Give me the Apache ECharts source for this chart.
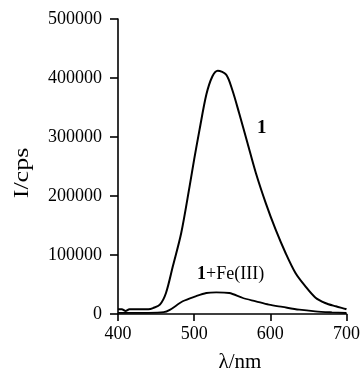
<!DOCTYPE html>
<html><head><meta charset="utf-8">
<script src="https://cdn.jsdelivr.net/npm/echarts@6/dist/echarts.min.js"></script>
<style>html,body{margin:0;padding:0;background:#fff}#c{width:363px;height:371px}</style>
</head><body><div id="c"></div>
<script>
const wl1 = [400,405,410,415,420,430,440,446,455,463,472,483,494,500,507,516,524,531,542,550,559,570,581,594,607,620,633,646,659,672,686,699,700];
const I1 = [8000,8000,5000,8000,8000,8000,8000,10000,15800,35600,80800,137300,216400,262000,312000,372000,403000,412500,405700,380000,340700,289800,239000,188000,142900,103400,69500,46900,28000,18600,13000,8500,8000];
const wl2 = [400,420,440,460,468,485,502,516,529,546,564,581,598,616,638,659,681,700];
const I2 = [2000,2000,2000,3000,7000,21500,30000,35600,36700,35600,27100,21500,15800,11900,7300,4500,2800,1700];
const xTicks = [400,500,600,700];
const yTicks = [0,100000,200000,300000,400000,500000];
const xTitle = 'λ/nm';
const yTitle = 'I/cps';
const labelMain = '1';
const labelFe = '+Fe(III)';

const chart = echarts.init(document.getElementById('c'));
const font = 'Liberation Serif';
chart.setOption({
  animation:false,
  grid:{left:118,right:15,top:19,bottom:57},
  xAxis:{type:'value',min:xTicks[0],max:xTicks[xTicks.length-1],interval:100,
    axisLine:{lineStyle:{color:'#000',width:1.6}},
    axisTick:{show:true,length:7,lineStyle:{color:'#000',width:1.6}},
    axisLabel:{fontFamily:font,fontSize:18,color:'#000',margin:11,formatter:v=>String(v)},
    splitLine:{show:false}},
  yAxis:{type:'value',min:yTicks[0],max:yTicks[yTicks.length-1],interval:100000,
    axisLine:{show:true,lineStyle:{color:'#000',width:1.6}},
    axisTick:{show:true,length:8,lineStyle:{color:'#000',width:1.6}},
    axisLabel:{fontFamily:font,fontSize:18,color:'#000',margin:16,formatter:v=>String(v)},
    splitLine:{show:false}},
  series:[
    {type:'line',data:wl1.map((x,i)=>[x,I1[i]]),symbol:'none',smooth:0.3,lineStyle:{color:'#000',width:2},z:3},
    {type:'line',data:wl2.map((x,i)=>[x,I2[i]]),symbol:'none',smooth:0.3,lineStyle:{color:'#000',width:1.8},z:3}
  ],
  graphic:[
    {type:'text',x:240,y:362,style:{text:xTitle,fontFamily:font,fontSize:21,fill:'#000',align:'center',verticalAlign:'middle'}},
    {type:'text',x:23,y:173,rotation:Math.PI/2,scaleX:1.3,style:{text:yTitle,fontFamily:font,fontSize:20,fill:'#000',align:'center',verticalAlign:'middle'}},
    {type:'text',left:257,top:119,style:{text:labelMain,fontFamily:font,fontSize:19,fontWeight:'bold',fill:'#000'}},
    {type:'text',left:197,top:265,style:{text:'{b|1}{n|'+labelFe+'}',rich:{b:{fontFamily:font,fontSize:18,fontWeight:'bold',fill:'#000'},n:{fontFamily:font,fontSize:18,fill:'#000'}}}}
  ]
});
</script></body></html>
